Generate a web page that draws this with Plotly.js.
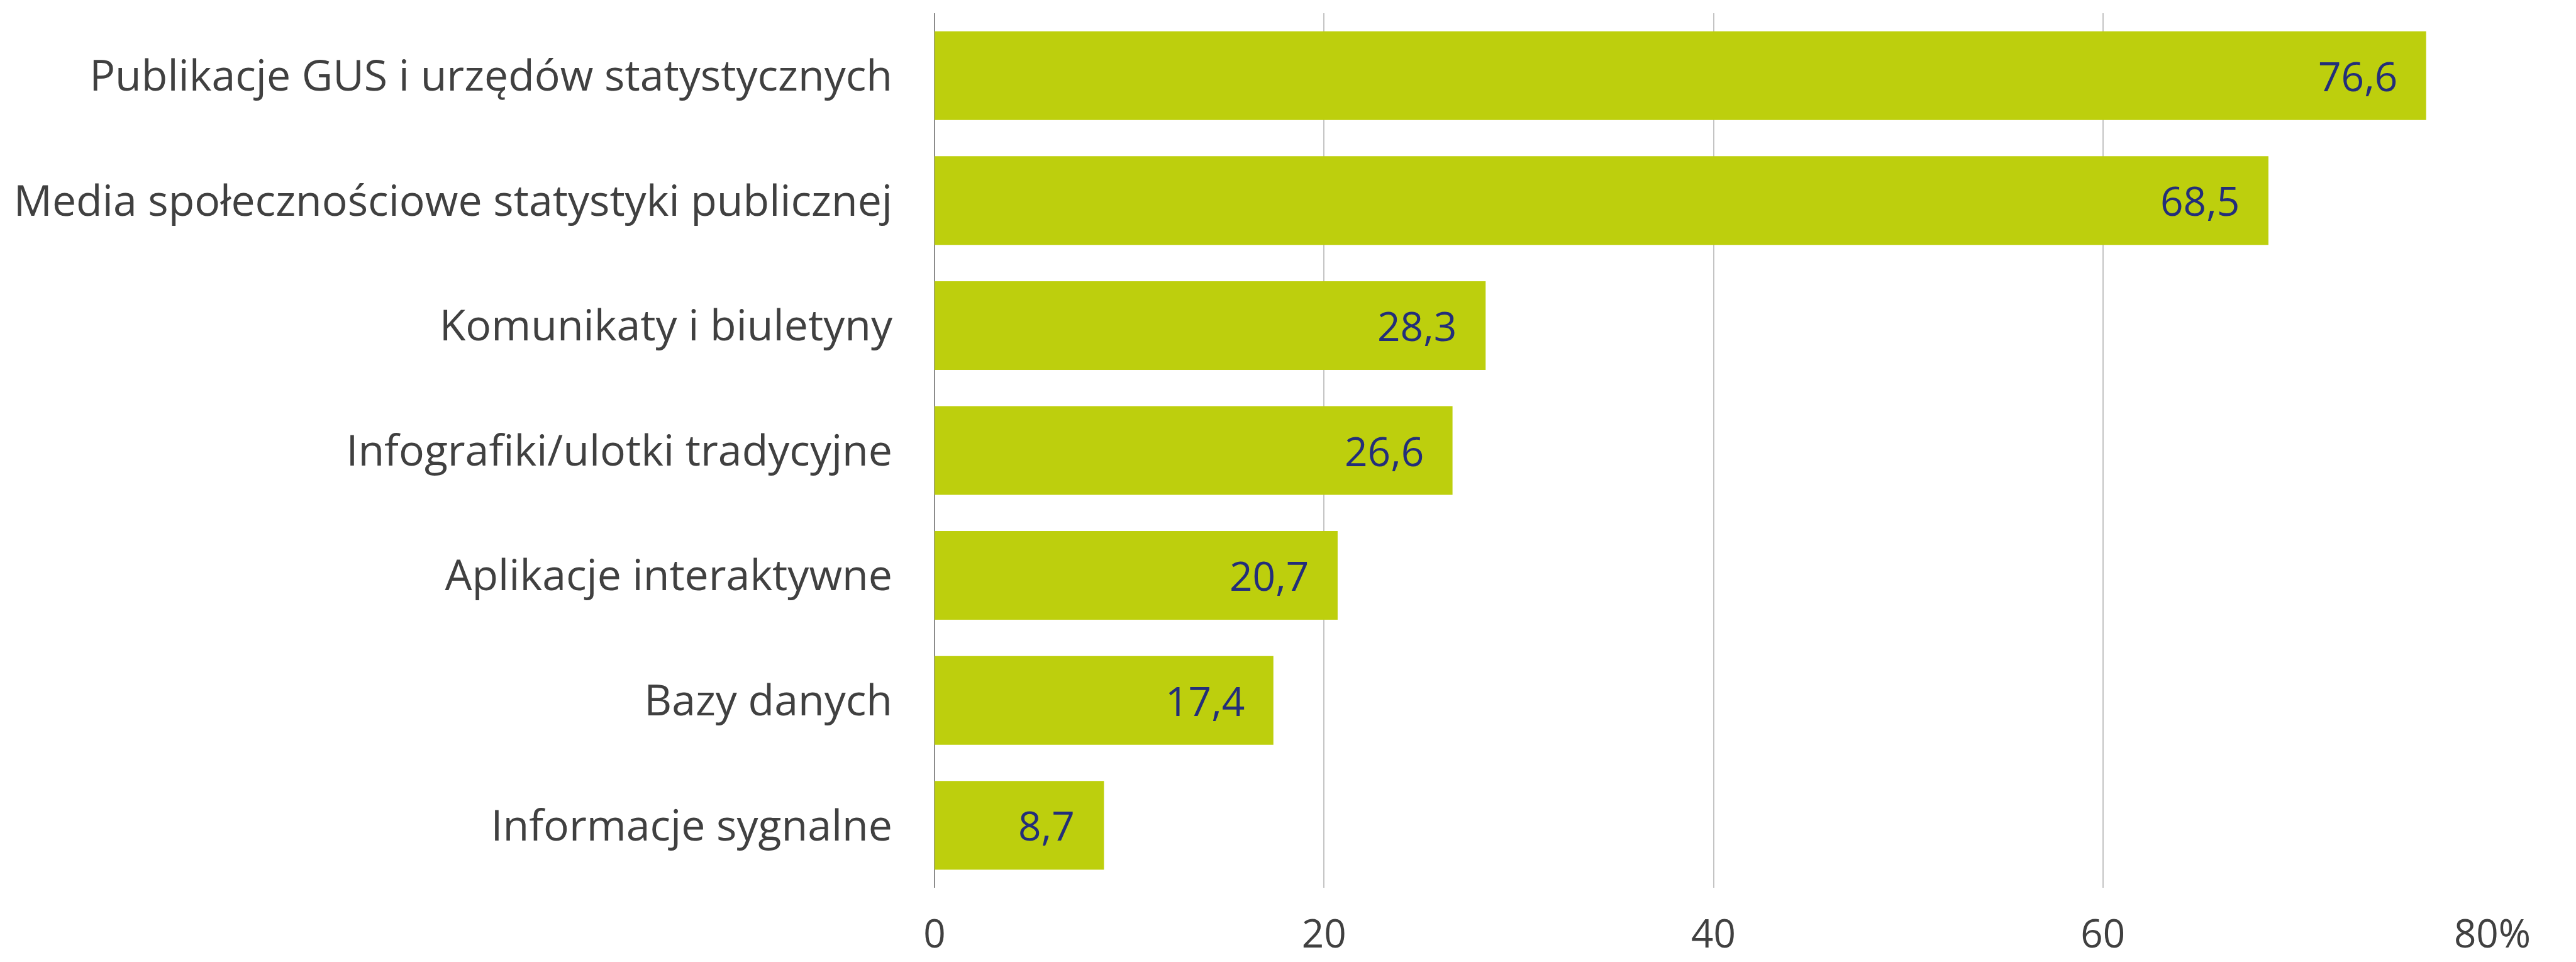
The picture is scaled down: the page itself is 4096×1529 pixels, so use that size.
<!DOCTYPE html>
<html>
<head>
<meta charset="utf-8">
<script src="https://cdn.plot.ly/plotly-3.0.1.min.js"></script>
<style>html,body{margin:0;padding:0;background:#fff;}#chart{width:4096px;height:1529px;}</style>
</head>
<body>
<div id="chart"></div>
<script>
const categories = [
  "Publikacje GUS i urzędów statystycznych",
  "Media społecznościowe statystyki publicznej",
  "Komunikaty i biuletyny",
  "Infografiki/ulotki tradycyjne",
  "Aplikacje interaktywne",
  "Bazy danych",
  "Informacje sygnalne"
];
const values = [76.6, 68.5, 28.3, 26.6, 20.7, 17.4, 8.7];
const tickValues = [0, 20, 40, 60, 80];
const tickLabels = ["0", "20", "40", "60", "80%"];

const fmt = v => v.toFixed(1).replace('.', ',');

const trace = {
  type: 'bar',
  orientation: 'h',
  x: values,
  y: categories,
  marker: {color: '#bdcf0d', line: {width: 0}},
  hoverinfo: 'none'
};

const annotations = values.map((v, i) => ({
  x: v, y: categories[i], xref: 'x', yref: 'y',
  text: fmt(v), showarrow: false,
  xanchor: 'right', yanchor: 'middle', xshift: -44,
  font: {family: 'Open Sans', size: 64, color: '#232e7a'}
}));

const layout = {
  width: 4096, height: 1529, autosize: false,
  margin: {l: 1486, r: 133, t: 21, b: 118, pad: 0},
  paper_bgcolor: '#ffffff', plot_bgcolor: '#ffffff',
  bargap: 0.29,
  showlegend: false,
  font: {family: 'Open Sans', color: '#404040'},
  xaxis: {
    range: [0, 80],
    tickvals: tickValues, ticktext: tickLabels,
    showgrid: true, gridcolor: '#c4c4c4', gridwidth: 2,
    zeroline: true, zerolinecolor: '#8c8c8c', zerolinewidth: 2,
    showline: false, ticks: '',
    tickfont: {family: 'Open Sans', size: 62, color: '#404040'},
    ticklabelstandoff: 32,
    fixedrange: true
  },
  yaxis: {
    type: 'category',
    autorange: 'reversed',
    showgrid: false, zeroline: false, showline: false, ticks: '',
    tickfont: {family: 'Open Sans', size: 68, color: '#404040'},
    ticklabelstandoff: 66,
    fixedrange: true
  },
  annotations: annotations
};

Plotly.newPlot('chart', [trace], layout, {displayModeBar: false, staticPlot: true});
</script>
</body>
</html>
